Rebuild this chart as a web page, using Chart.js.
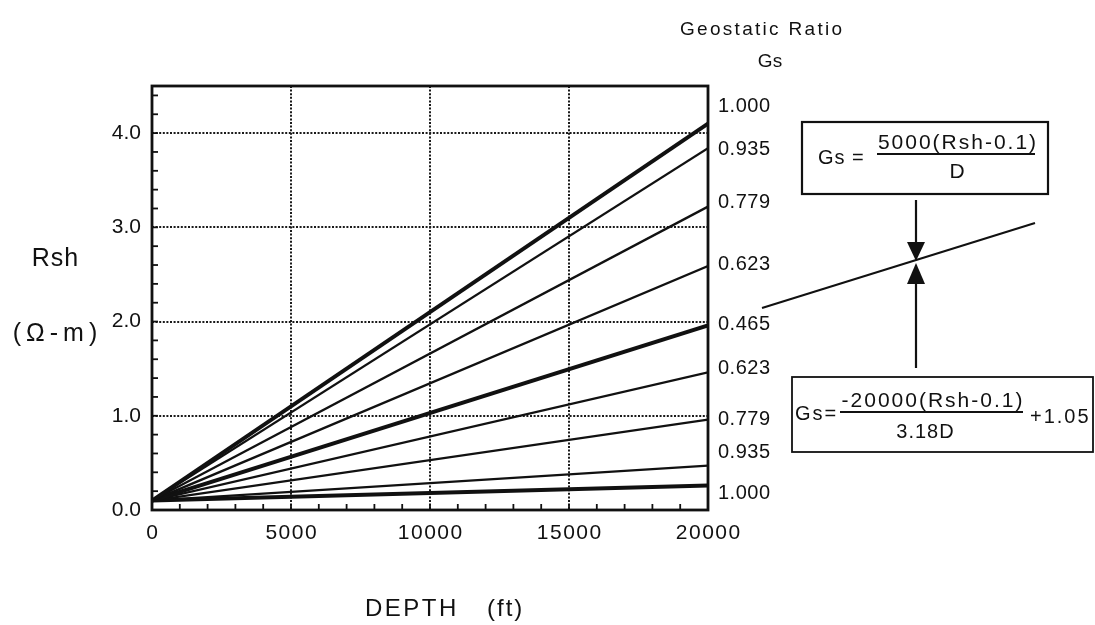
<!DOCTYPE html>
<html>
<head>
<meta charset="utf-8">
<script src="https://cdn.jsdelivr.net/npm/chart.js@4.4.0/dist/chart.umd.min.js"></script>
<style>
  html, body { margin: 0; padding: 0; background: #fff; }
</style>
</head>
<body>
<canvas id="chart" width="1095" height="625"></canvas>
<script>
// data: Rsh lines from the origin to 20000 ft
const depths = [0, 20000];
const startRsh = 0.1;
const gsValues = ["1.000", "0.935", "0.779", "0.623", "0.465", "0.623", "0.779", "0.935", "1.000"];
const endRsh = [4.1, 3.84, 3.22, 2.59, 1.96, 1.46, 0.96, 0.47, 0.26];
const xTicks = [0, 5000, 10000, 15000, 20000];
const yTicks = [0, 1, 2, 3, 4];

const FONT = '"Liberation Sans", Arial, Helvetica, sans-serif';
const INK = "#111";

// where the Gs labels sit on the right (in Rsh units)
const gsLabelAt = [4.28, 3.83, 3.26, 2.61, 1.97, 1.5, 0.96, 0.61, 0.18];

function heavy(i) {
  return i === 0 || i === 4 || i === gsValues.length - 1;
}

const datasets = gsValues.map((g, i) => ({
  label: "Gs " + g,
  data: [
    { x: depths[0], y: startRsh },
    { x: depths[1], y: endRsh[i] },
  ],
  borderColor: INK,
  borderWidth: heavy(i) ? 4 : 2.3,
  pointRadius: 0,
  tension: 0,
}));

function txt(ctx, s, x, y, size, align, spacing) {
  ctx.save();
  ctx.font = size + "px " + FONT;
  ctx.letterSpacing = (spacing || 0) + "px";
  ctx.textAlign = align || "left";
  ctx.textBaseline = "middle";
  ctx.fillStyle = INK;
  const dx = align === "center" ? (spacing || 0) / 2 : 0;
  ctx.fillText(s, x + dx, y);
  ctx.restore();
}

function line(ctx, x1, y1, x2, y2, w) {
  ctx.beginPath();
  ctx.lineWidth = w;
  ctx.moveTo(x1, y1);
  ctx.lineTo(x2, y2);
  ctx.stroke();
}

const decor = {
  id: "decor",
  afterDraw(chart) {
    const ctx = chart.ctx;
    const a = chart.chartArea;
    const xs = chart.scales.x;
    const ys = chart.scales.y;
    ctx.save();
    ctx.strokeStyle = INK;
    ctx.fillStyle = INK;

    // plot frame
    ctx.lineWidth = 2.8;
    ctx.strokeRect(a.left, a.top, a.right - a.left, a.bottom - a.top);

    // inward minor ticks
    for (let v = 0.2; v < 4.5; v += 0.2) {
      const y = ys.getPixelForValue(v);
      line(ctx, a.left, y, a.left + 6, y, 1.8);
    }
    for (let v = 1000; v < 20000; v += 1000) {
      const x = xs.getPixelForValue(v);
      line(ctx, x, a.bottom, x, a.bottom - 6, 1.8);
    }

    // x tick labels (wide spacing as in the original)
    xTicks.forEach(v => txt(ctx, String(v), xs.getPixelForValue(v), 533, 21, "center", 1.5));

    // Gs labels on the right
    gsValues.forEach((g, i) => txt(ctx, g, 718, ys.getPixelForValue(gsLabelAt[i]), 20, "left", 0.5));

    // titles
    txt(ctx, "Geostatic Ratio", 761, 30, 19, "center", 2.3);
    txt(ctx, "Gs", 770, 62, 19, "center", 0);
    txt(ctx, "Rsh", 55, 259, 25, "center", 1);
    txt(ctx, "(Ω-m)", 55, 334, 25, "center", 5);
    txt(ctx, "DEPTH", 365, 609, 24, "left", 2.5);
    txt(ctx, "(ft)", 487, 609, 24, "left", 2);

    // formula box 1
    ctx.lineWidth = 2.2;
    ctx.strokeRect(802, 122, 246, 72);
    txt(ctx, "Gs =", 818, 158, 20, "left", 1);
    txt(ctx, "5000(Rsh-0.1)", 957, 143, 21, "center", 2);
    line(ctx, 877, 154, 1035, 154, 1.8);
    txt(ctx, "D", 957, 172, 21, "center", 0);

    // formula box 2
    ctx.strokeRect(792, 377, 301, 75);
    txt(ctx, "Gs=", 795, 414, 20, "left", 2);
    txt(ctx, "-20000(Rsh-0.1)", 932, 401, 21, "center", 2);
    line(ctx, 840, 412, 1023, 412, 1.8);
    txt(ctx, "3.18D", 925, 432, 20, "center", 1);
    txt(ctx, "+1.05", 1030, 417, 20, "left", 2);

    // arrows and crossing line
    line(ctx, 762, 308, 1035, 223, 2.2);
    line(ctx, 916, 200, 916, 252, 2.2);
    line(ctx, 916, 272, 916, 368, 2.2);
    ctx.beginPath();
    ctx.moveTo(907, 242); ctx.lineTo(925, 242); ctx.lineTo(916, 261); ctx.closePath();
    ctx.fill();
    ctx.beginPath();
    ctx.moveTo(907, 284); ctx.lineTo(925, 284); ctx.lineTo(916, 263); ctx.closePath();
    ctx.fill();

    ctx.restore();
  },
};

new Chart(document.getElementById("chart").getContext("2d"), {
  type: "line",
  data: { datasets: datasets },
  options: {
    responsive: false,
    animation: false,
    devicePixelRatio: 1,
    layout: { padding: { top: 86, right: 387, left: 0, bottom: 0 } },
    plugins: {
      legend: { display: false },
      tooltip: { enabled: false },
    },
    scales: {
      x: {
        type: "linear",
        min: 0,
        max: 20000,
        afterBuildTicks: s => { s.ticks = xTicks.map(v => ({ value: v })); },
        afterFit: s => { s.height = 115; },
        ticks: { display: false },
        grid: { color: "#1a1a1a", lineWidth: 2, drawTicks: false },
        border: { display: false, dash: [2, 1.6] },
      },
      y: {
        type: "linear",
        min: 0,
        max: 4.5,
        afterBuildTicks: s => { s.ticks = yTicks.map(v => ({ value: v })); },
        afterFit: s => { s.width = 152; },
        ticks: {
          padding: 11,
          color: INK,
          font: { family: FONT, size: 21 },
          callback: v => Number(v).toFixed(1),
        },
        grid: { color: "#1a1a1a", lineWidth: 2, drawTicks: false },
        border: { display: false, dash: [2, 1.6] },
      },
    },
  },
  plugins: [decor],
});
</script>
</body>
</html>
